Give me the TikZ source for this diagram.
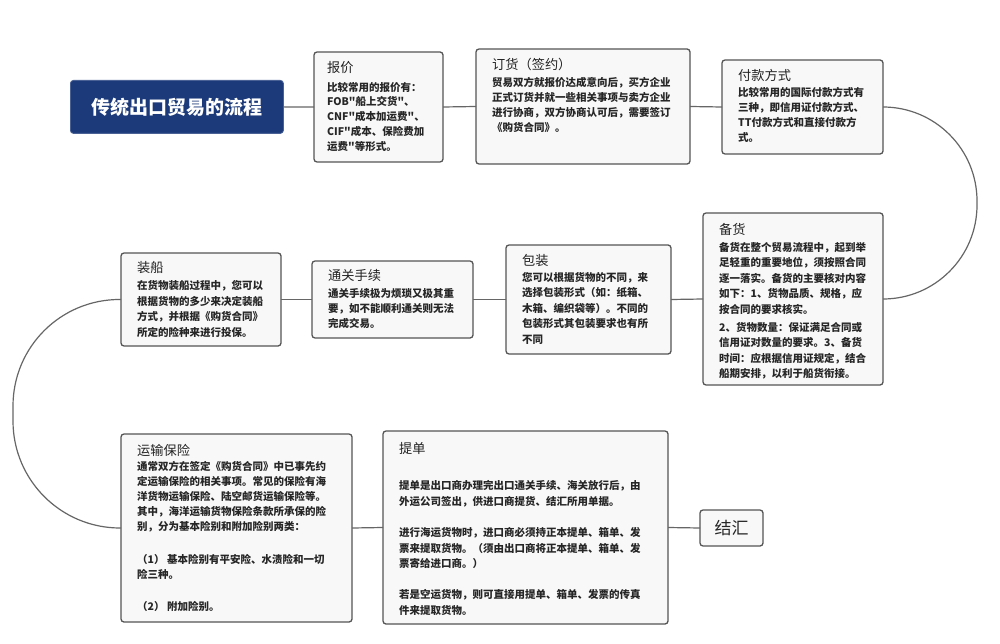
\documentclass[tikz,border=0pt]{standalone}
\usepackage{fontspec}
\setmainfont{Noto Sans CJK SC}[Ligatures=TeXOff]
\usetikzlibrary{calc}
\definecolor{navy}{HTML}{1C3A7A}
\definecolor{boxfill}{HTML}{F8F8F8}
\definecolor{boxline}{HTML}{555555}
\definecolor{connc}{HTML}{666666}
\definecolor{txtc}{HTML}{262626}
\begin{document}
\begin{tikzpicture}[x=1pt,y=-1pt,
  stepbox/.style={draw=boxline, fill=boxfill, line width=1.3pt, rounded corners=3pt, inner sep=0pt, outer sep=0pt, anchor=north west},
  headtxt/.style={anchor=west, inner sep=0pt, font=\fontsize{13.2}{16}\selectfont, text=txtc!90!black},
  bodytxt/.style={anchor=north west, inner sep=0pt, align=left, font=\bfseries\fontsize{10.5}{15.2}\selectfont, text=txtc},
  conn/.style={draw=connc, line width=1.2pt}]
\useasboundingbox (0,0) rectangle (1000,644);
\fill[white] (0,0) rectangle (1000,644);

% title
\node[draw=navy!80!white, fill=navy, line width=0.8pt, rounded corners=3pt, inner sep=0pt, anchor=north west,
  minimum width=213pt, minimum height=53pt, text=white, font=\bfseries\fontsize{19}{22}\selectfont]
  (title) at (70,80) {传统出口贸易的流程};

% boxes
\node[stepbox, minimum width=129pt, minimum height=110pt] (bj) at (314,52) {};
\node[stepbox, minimum width=214pt, minimum height=115pt] (dh) at (476,49) {};
\node[stepbox, minimum width=161pt, minimum height=94pt] (fk) at (722,60) {};
\node[stepbox, minimum width=180pt, minimum height=172pt] (bh) at (703,213) {};
\node[stepbox, minimum width=165pt, minimum height=109pt] (bz) at (506,245) {};
\node[stepbox, minimum width=161pt, minimum height=77pt] (tg) at (312,261) {};
\node[stepbox, minimum width=160pt, minimum height=93pt] (zc) at (121,253) {};
\node[stepbox, minimum width=231pt, minimum height=188pt] (ys) at (121,434) {};
\node[stepbox, minimum width=285pt, minimum height=193pt] (td) at (383,431) {};
\node[stepbox, anchor=center, minimum width=63pt, minimum height=36pt, text=txtc, font=\fontsize{17}{20}\selectfont] (jh) at (731.5,528) {结汇};

% headings
\node[headtxt] (bjh) at ($(bj.north west)+(13,16)$) {报价};
\node[headtxt] (dhh) at ($(dh.north west)+(16,15)$) {订货（签约）};
\node[headtxt] (fkh) at ($(fk.north west)+(16,15)$) {付款方式};
\node[headtxt] (bhh) at ($(bh.north west)+(16,16)$) {备货};
\node[headtxt] (bzh) at ($(bz.north west)+(16,15)$) {包装};
\node[headtxt] (tgh) at ($(tg.north west)+(16,14)$) {通关手续};
\node[headtxt] (zch) at ($(zc.north west)+(16,15)$) {装船};
\node[headtxt] (ysh) at ($(ys.north west)+(16,16)$) {运输保险};
\node[headtxt] (tdh) at ($(td.north west)+(16,17)$) {提单};

% bodies
\node[bodytxt, font=\bfseries\fontsize{10.5}{14.8}\selectfont] (bjb) at ($(bj.north west)+(13,28.5)$) {\strut 比较常用的报价有：\\FOB"船上交货"、\\CNF"成本加运费"、\\CIF"成本、保险费加\\运费"等形式。};
\node[bodytxt, font=\bfseries\fontsize{10.5}{14.7}\selectfont] (dhb) at ($(dh.north west)+(16,27.5)$) {\strut 贸易双方就报价达成意向后，买方企业\\正式订货并就一些相关事项与卖方企业\\进行协商，双方协商认可后，需要签订\\《购货合同》。};
\node[bodytxt, font=\bfseries\fontsize{10.5}{14.7}\selectfont] (fkb) at ($(fk.north west)+(16,26.5)$) {\strut 比较常用的国际付款方式有\\三种，即信用证付款方式、\\TT付款方式和直接付款方\\式。};
\node[bodytxt, font=\bfseries\fontsize{10.5}{15.5}\selectfont] (bhb) at ($(bh.north west)+(16,27)$) {\strut 备货在整个贸易流程中，起到举\\足轻重的重要地位，须按照合同\\逐一落实。备货的主要核对内容\\如下：1、货物品质、规格，应\\按合同的要求核实。\\[2.8pt]2、货物数量：保证满足合同或\\信用证对数量的要求。3、备货\\时间：应根据信用证规定，结合\\船期安排，以利于船货衔接。};
\node[bodytxt, font=\bfseries\fontsize{10.5}{15.6}\selectfont] (bzb) at ($(bz.north west)+(16,25)$) {\strut 您可以根据货物的不同，来\\选择包装形式（如：纸箱、\\木箱、编织袋等）。不同的\\包装形式其包装要求也有所\\不同};
\node[bodytxt, font=\bfseries\fontsize{10.5}{15}\selectfont] (tgb) at ($(tg.north west)+(16,25.5)$) {\strut 通关手续极为烦琐又极其重\\要，如不能顺利通关则无法\\完成交易。};
\node[bodytxt, font=\bfseries\fontsize{10.5}{15.5}\selectfont] (zcb) at ($(zc.north west)+(16,25.5)$) {\strut 在货物装船过程中，您可以\\根据货物的多少来决定装船\\方式，并根据《购货合同》\\所定的险种来进行投保。};
\node[bodytxt, font=\bfseries\fontsize{10.5}{15}\selectfont] (ysb) at ($(ys.north west)+(16,26)$) {\strut 通常双方在签定《购货合同》中已事先约\\定运输保险的相关事项。常见的保险有海\\洋货物运输保险、陆空邮货运输保险等。\\其中，海洋运输货物保险条款所承保的险\\别，分为基本险别和附加险别两类：\\[18pt]（1） 基本险别有平安险、水渍险和一切\\险三种。\\[16.5pt]（2） 附加险别。};
\node[bodytxt, font=\bfseries\fontsize{10.5}{15.8}\selectfont] (tdb) at ($(td.north west)+(16,47.5)$) {\strut 提单是出口商办理完出口通关手续、海关放行后，由\\外运公司签出，供进口商提货、结汇所用单据。\\[15pt]进行海运货物时，进口商必须持正本提单、箱单、发\\票来提取货物。（须由出口商将正本提单、箱单、发\\票寄给进口商。）\\[15pt]若是空运货物，则可直接用提单、箱单、发票的传真\\件来提取货物。};

% connectors
\coordinate (rt) at (977,107);
\coordinate (lt) at (13,299);
\draw[conn] (title.east) -- (bj.west);
\draw[conn] (bj.east) -- (dh.west);
\draw[conn] (dh.east) -- (fk.west);
\draw[conn, rounded corners=94pt] (fk.east) -- (rt) |- (bh.east);
\draw[conn] (bh.west) -- (bz.east);
\draw[conn] (bz.west) -- (tg.east);
\draw[conn] (tg.west) -- (zc.east);
\draw[conn, rounded corners=107pt] (zc.west) -- (lt) |- (ys.west);
\draw[conn] (ys.east) -- (td.west);
\draw[conn] (td.east) -- (jh.west);
\end{tikzpicture}
\end{document}
